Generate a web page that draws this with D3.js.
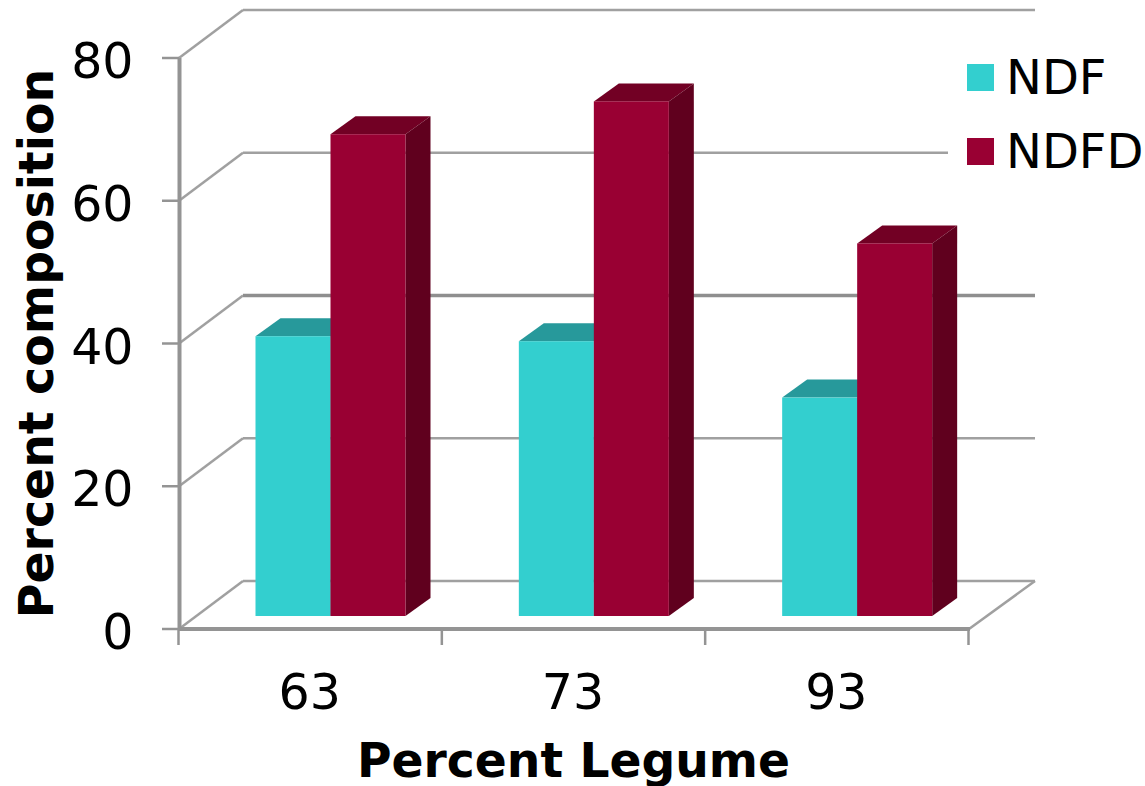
<!DOCTYPE html>
<html><head><meta charset="utf-8">
<script src="https://cdn.jsdelivr.net/npm/d3@7"></script>
<style>html,body{margin:0;padding:0;background:#fff}svg{display:block}text{font-family:"DejaVu Sans",sans-serif;fill:#000}</style>
</head><body><svg id="c" width="1145" height="786"></svg>
<script>
const categories=["63","73","93"];
const seriesNames=["NDF","NDFD"];
const ndf=[39.2,38.5,30.6];
const ndfd=[67.5,72.1,52.2];
const yTicks=[0,20,40,60,80];
const colors={NDF:{front:"#33cfcf",top:"#27999b",side:"#1f8a8a"},NDFD:{front:"#990033",top:"#720024",side:"#60001e"}};
const svg=d3.select("#c");
const x=d3.scaleBand().domain(categories).range([179,969]);
const y=d3.scaleLinear().domain([0,80]).range([629,58]);
const depthX=64,depthY=48;
const barDX=25,barDY=18,baseUp=13;
const grid="#a0a0a0",axisC="#949494";
const g=svg.append("g");
yTicks.forEach(t=>{
  const heavy=t===40;
  g.append("path").attr("fill","none").attr("stroke",grid).attr("stroke-width",2.5)
   .attr("d",d3.line()([[179,y(t)],[179+depthX,y(t)-depthY]]));
  g.append("line").attr("x1",179+depthX).attr("x2",1035).attr("y1",y(t)-depthY).attr("y2",y(t)-depthY)
   .attr("stroke",heavy?"#8f8f8f":grid).attr("stroke-width",heavy?3.5:2.5);
});
g.append("line").attr("x1",969).attr("y1",y(0)).attr("x2",1035).attr("y2",y(0)-depthY).attr("stroke",grid).attr("stroke-width",2.5);
svg.append("rect").attr("x",948).attr("y",40).attr("width",197).attr("height",150).attr("fill","#fff");
const ax=svg.append("g");
ax.append("line").attr("x1",179.5).attr("x2",179.5).attr("y1",y(80)).attr("y2",y(0)).attr("stroke",axisC).attr("stroke-width",4);
ax.append("line").attr("x1",178).attr("x2",970).attr("y1",y(0)).attr("y2",y(0)).attr("stroke",axisC).attr("stroke-width",4);
yTicks.forEach(t=>{
  ax.append("line").attr("x1",162).attr("x2",179).attr("y1",y(t)).attr("y2",y(t)).attr("stroke",axisC).attr("stroke-width",2.5);
  ax.append("text").attr("x",133.5).attr("y",y(t)+20).attr("text-anchor","end").attr("font-size",49).text(t);
});
[...categories.map(c=>x(c)),969].forEach(px=>{
  ax.append("line").attr("x1",px-0.5).attr("x2",px-0.5).attr("y1",y(0)).attr("y2",645).attr("stroke",axisC).attr("stroke-width",2.5);
});
categories.forEach(c=>{
  ax.append("text").attr("x",x(c)+x.bandwidth()/2-1).attr("y",708.5).attr("text-anchor","middle").attr("font-size",49).text(c);
});
const inner=d3.scaleBand().domain(seriesNames).range([76.5,226.5]);
const base=y(0)-baseUp;
const yb=v=>y(v)-baseUp;
[["NDF",ndf],["NDFD",ndfd]].forEach(([name,vals])=>{
  const col=colors[name];
  const bars=svg.append("g");
  vals.forEach((v,i)=>{
    const L=x(categories[i])+inner(name),R=L+inner.bandwidth(),T=yb(v);
    bars.append("polygon").attr("fill",col.top).attr("points",[[L,T],[L+barDX,T-barDY],[R+barDX,T-barDY],[R,T]].join(" "));
    bars.append("polygon").attr("fill",col.side).attr("points",[[R,T],[R+barDX,T-barDY],[R+barDX,base-barDY],[R,base]].join(" "));
    bars.append("rect").attr("x",L).attr("y",T).attr("width",R-L).attr("height",base-T).attr("fill",col.front);
  });
});
seriesNames.forEach((n,i)=>{
  const ly=64+i*74;
  svg.append("rect").attr("x",967).attr("y",ly).attr("width",27).attr("height",27).attr("fill",colors[n].front);
  svg.append("text").attr("x",1006).attr("y",ly+30).attr("font-size",48).text(n);
});
svg.append("text").attr("x",573.5).attr("y",776.5).attr("text-anchor","middle").attr("font-size",47.2).attr("font-weight","bold").text("Percent Legume");
svg.append("text").attr("transform","translate(53,343.5) rotate(-90)").attr("text-anchor","middle").attr("font-size",47.4).attr("font-weight","bold").text("Percent composition");
</script></body></html>
